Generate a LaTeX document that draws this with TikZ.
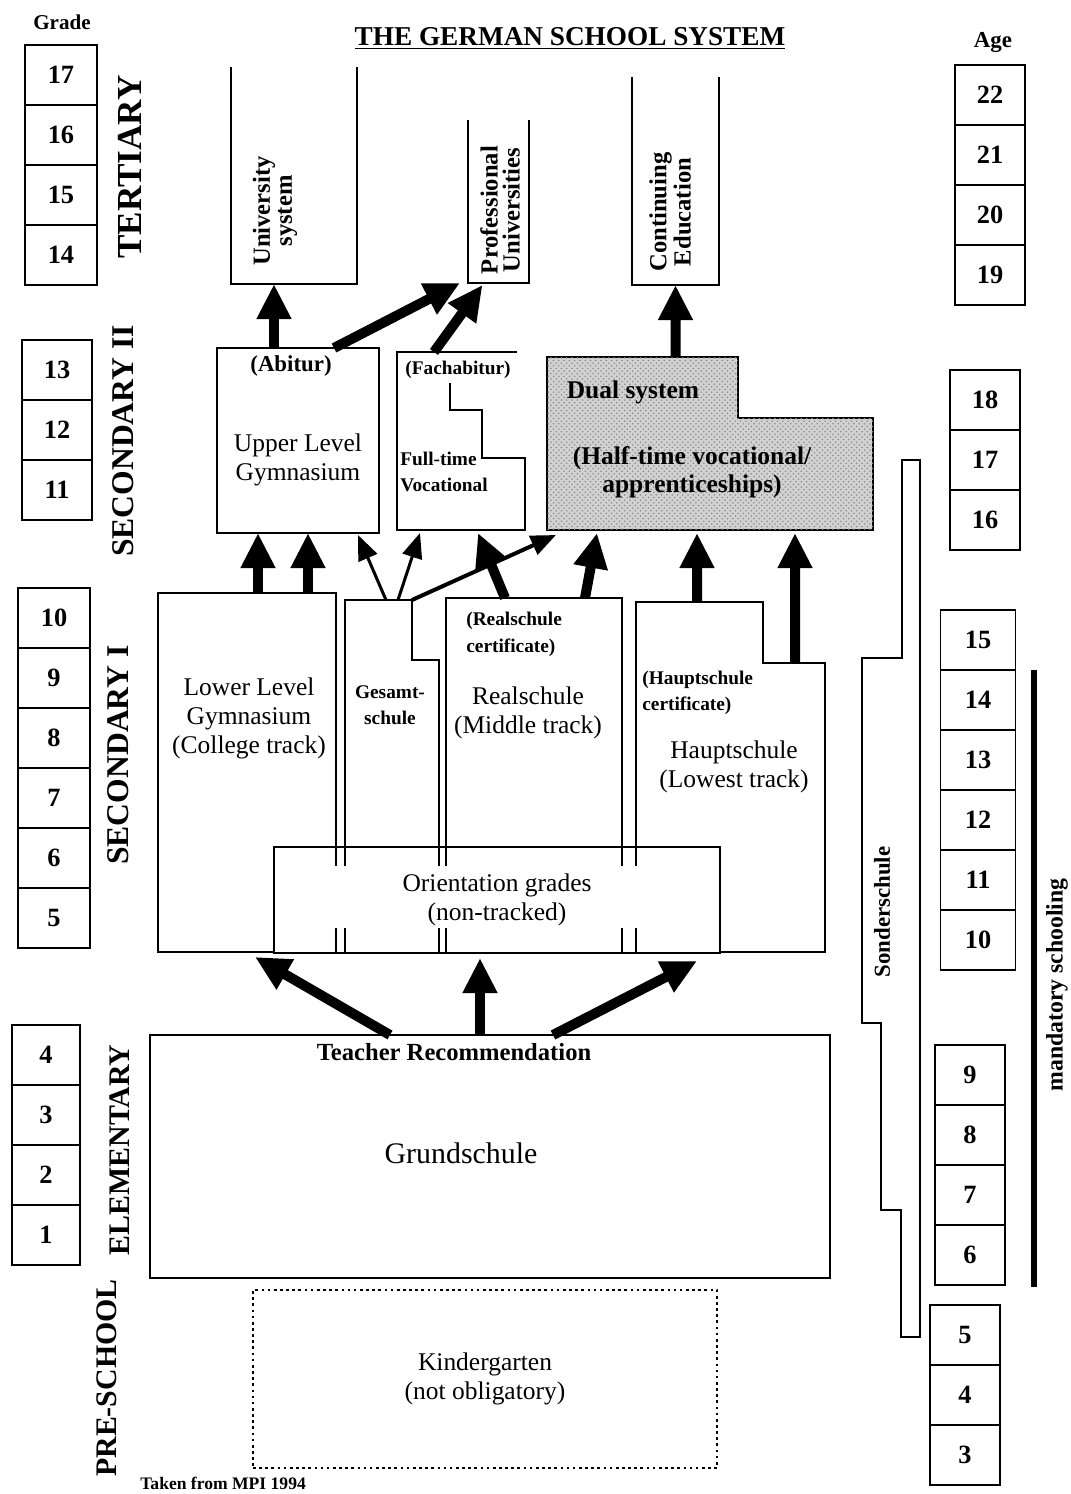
\documentclass[tikz,border=0pt]{standalone}
\usepackage{fontspec}
\setmainfont{Liberation Serif}
\usetikzlibrary{arrows.meta,calc,patterns}

\begin{document}
\begin{tikzpicture}[
    x=0.2mm,
    y=-0.2mm,
    frame/.style={
        inner sep=0pt,
        outer sep=0pt
    },
    school line/.style={
        draw,
        line width=1.5pt
    },
    school box/.style={
        frame,
        school line
    },
    year cell/.style={
        draw,
        line width=1.1pt,
        minimum height=12mm,
        inner sep=0pt,
        font=\fontsize{15}{15}\selectfont\bfseries
    },
    stage label/.style={
        rotate=90,
        inner sep=0pt,
        font=\fontsize{18}{18}\selectfont\bfseries
    },
    track label/.style={
        align=center,
        font=\fontsize{14.5}{16.5}\selectfont
    },
    note label/.style={
        align=left,
        inner sep=0pt,
        font=\fontsize{11}{15}\selectfont\bfseries
    },
    column label/.style={
        rotate=90,
        align=center,
        inner sep=0pt,
        font=\fontsize{14}{12.5}\selectfont\bfseries
    },
    big arrow/.style={
        line width=2mm,
        -{Triangle[length=7mm,width=6.5mm]}
    },
    thin arrow/.style={
        line width=0.6mm,
        -{Triangle[length=5mm,width=4mm]}
    },
    ]
    \useasboundingbox (0,0) rectangle (1071,1494);

    \node[font=\fontsize{15.5}{16}\selectfont\bfseries] (title) at (570,38) {\underline{THE GERMAN SCHOOL SYSTEM}};
    \node[font=\fontsize{12}{12}\selectfont\bfseries] (grade-title) at (62,22) {Grade};
    \node[font=\fontsize{13}{13}\selectfont\bfseries] (age-title) at (993,42) {Age};

    \foreach \cx/\ytop/\w/\years in {61/45/72/{17,16,15,14}, 57/340/70/{13,12,11}, 54/588/72/{10,9,8,7,6,5}, 46/1025/68/{4,3,2,1}}
        \foreach \y [count=\i from 0] in \years
            \node[year cell, minimum width=\w*0.2mm] (grade-\y) at (\cx,{\ytop+30+60*\i}) {\y};
    \foreach \cx/\ytop/\w/\years in {990/65/70/{22,21,20,19}, 985/370/70/{18,17,16}, 978/610/75/{15,14,13,12,11,10}, 970/1045/70/{9,8,7,6}, 965/1305/70/{5,4,3}}
        \foreach \y [count=\i from 0] in \years
            \node[year cell, minimum width=\w*0.2mm] (age-\y) at (\cx,{\ytop+30+60*\i}) {\y};

    \node[stage label, font=\fontsize{20}{20}\selectfont\bfseries] (tertiary) at (130,167) {TERTIARY};
    \node[stage label] (secondary-two) at (123,441) {SECONDARY II};
    \node[stage label] (secondary-one) at (118,755) {SECONDARY I};
    \node[stage label, font=\fontsize{17}{17}\selectfont\bfseries] (elementary) at (120,1150) {ELEMENTARY};
    \node[stage label, font=\fontsize{17}{17}\selectfont\bfseries] (pre-school) at (107,1378) {PRE-SCHOOL};

    \node[frame, minimum width=25.2mm, minimum height=43.4mm] (uni) at (294,175.5) {};
    \draw[school line] (uni.north west) |- (uni.south east) -- (uni.north east);
    \node[column label] (uni-label) at (275,211) {University\\system};
    \node[frame, minimum width=12.2mm, minimum height=32.6mm] (prof) at (498.5,201.5) {};
    \draw[school line] (prof.north west) |- (prof.south east) -- (prof.north east);
    \node[column label] (prof-label) at (500,210) {Professional\\Universities};
    \node[frame, minimum width=17.4mm, minimum height=41.6mm] (cont) at (675.5,181) {};
    \draw[school line] (cont.north west) |- (cont.south east) -- (cont.north east);
    \node[column label] (cont-label) at (670,212) {Continuing\\Education};

    \node[school box, minimum width=32.4mm, minimum height=37mm] (upgym) at (298,440.5) {};
    \node[font=\fontsize{13}{13}\selectfont\bfseries] (abitur) at (291,366) {(Abitur)};
    \node[track label] (upgym-label) at (298,460) {Upper Level\\Gymnasium};

    \node[frame, minimum width=25.6mm, minimum height=35.6mm] (fach) at (461,441) {};
    \draw[school line] (517,352) -- (397,352) -- (397,530) -- (525,530) -- (525,458) -- (482,458) -- (482,410) -- (450,410) -- (450,383);
    \node[note label] (fachabitur) at (458,370) {(Fachabitur)};
    \node[note label, anchor=west] (fulltime) at (400,472) {Full-time\\Vocational};

    \node[frame, minimum width=65.2mm, minimum height=34.6mm] (dual) at (710,443.5) {};
    \draw[school line, fill=gray!35, postaction={pattern=crosshatch dots, pattern color=black!45}] (547,357) -- (738,357) -- (738,418) -- (873,418) -- (873,530) -- (547,530) -- cycle;
    \node[font=\fontsize{14.5}{16}\selectfont\bfseries] (dual-label) at (633,392) {Dual system};
    \node[align=center, font=\fontsize{14.5}{16}\selectfont\bfseries] (dual-note) at (692,472) {(Half-time vocational/\\apprenticeships)};

    \node[school box, minimum width=35.6mm, minimum height=71.8mm] (gym) at (247,772.5) {};
    \node[track label] (gym-label) at (249,718) {Lower Level\\Gymnasium\\(College track)};
    \node[frame, minimum width=18.8mm, minimum height=70.6mm] (gesamt) at (392,776.5) {};
    \draw[school line] (gesamt.south west) |- (412,600) -- (412,660) -| (gesamt.south east);
    \node[note label, align=center] (gesamt-label) at (390,705) {Gesamt-\\schule};
    \node[school box, minimum width=35.2mm, minimum height=71mm] (real) at (534,775.5) {};
    \node[note label, anchor=north west] (real-note) at (466,612) {(Realschule\\certificate)};
    \node[track label] (real-label) at (528,713) {Realschule\\(Middle track)};
    \node[frame, minimum width=37.8mm, minimum height=70mm] (haupt) at (730.5,777) {};
    \draw[school line] (haupt.south west) |- (763,602) -- (763,663) -| (haupt.south east) -- cycle;
    \node[note label, anchor=west] (haupt-note) at (642,693) {(Hauptschule\\certificate)};
    \node[track label] (haupt-label) at (734,767) {Hauptschule\\(Lowest track)};

    \node[school box, fill=white, track label, minimum width=89.2mm, minimum height=21.2mm] (orient) at (497,900) {Orientation grades\\(non-tracked)};
    \foreach \ex in {336,345,439,446,622,636}
        \draw[school line] (\ex,847) -- (\ex,866) (\ex,928) -- (\ex,953);

    \node[school box, minimum width=136mm, minimum height=48.6mm] (grund) at (490,1156.5) {};
    \node[font=\fontsize{17}{17}\selectfont] (grund-label) at (461,1153) {Grundschule};
    \node[font=\fontsize{14}{14}\selectfont\bfseries] (teacher) at (454,1052) {Teacher Recommendation};

    \node[school box, dotted, track label, minimum width=92.8mm, minimum height=35.6mm] (kinder) at (485,1379) {Kindergarten\\(not obligatory)};

    \draw[line width=1.1pt] (902,460) -- (920,460) -- (920,1337) -- (901,1337) -- (901,1210) -- (881,1210) -- (881,1023) -- (862,1023) -- (862,658) -- (902,658) -- cycle;
    \node[rotate=90, font=\fontsize{13}{13}\selectfont\bfseries] (sonder) at (882,912) {Sonderschule};

    \draw[line width=1.2mm] (1034,670) -- (1034,1287);
    \node[rotate=90, font=\fontsize{13.5}{14}\selectfont\bfseries] (mandatory) at (1057,985) {mandatory schooling};

    \draw[big arrow] ($(upgym.north)+(-24,0)$) -- ($(uni.south)+(-20,0)$);
    \draw[big arrow] ($(upgym.north)+(36,0)$) -- ($(prof.south west)+(-8,0)$);
    \draw[big arrow] ($(fach.north)+(-27,0)$) -- ($(prof.south)+(-16,2)$);
    \draw[big arrow] ($(dual.north west)+(128.5,0)$) -- (cont.south);

    \draw[big arrow] ($(gym.north)+(11,0)$) -- ($(upgym.south)+(-40,0)$);
    \draw[big arrow] ($(gym.north)+(61,0)$) -- ($(upgym.south)+(10,0)$);
    \draw[thin arrow] ($(gesamt.north)+(-6,0)$) -- ($(upgym.south east)+(-21,2)$);
    \draw[thin arrow] ($(gesamt.north)+(6,0)$) -- ($(fach.south west)+(23,3)$);
    \draw[thin arrow, line width=0.8mm] ($(gesamt.north)+(20,0)$) -- ($(dual.south west)+(9,5)$);
    \draw[big arrow] ($(real.north)+(-29,0)$) -- ($(fach.south)+(17,3)$);
    \draw[big arrow] ($(real.north)+(51,0)$) -- ($(dual.south west)+(50,3)$);
    \draw[big arrow] ($(haupt.north)+(-33.5,0)$) -- ($(dual.south west)+(150,3)$);
    \draw[big arrow] ($(haupt.north east)+(-30,61)$) -- ($(dual.south east)+(-78,3)$);

    \draw[big arrow] ($(grund.north)+(-100,0)$) -- ($(gym.south)+(8,5)$);
    \draw[big arrow] ($(grund.north)+(-10,0)$) -- ($(orient.south)+(-17,5)$);
    \draw[big arrow] ($(grund.north)+(63,0)$) -- ($(orient.south east)+(-23,8)$);

    \node[anchor=base west, inner sep=0pt, font=\fontsize{10}{10}\selectfont\bfseries] (source) at (140,1489) {Taken from MPI 1994};
\end{tikzpicture}
\end{document}
